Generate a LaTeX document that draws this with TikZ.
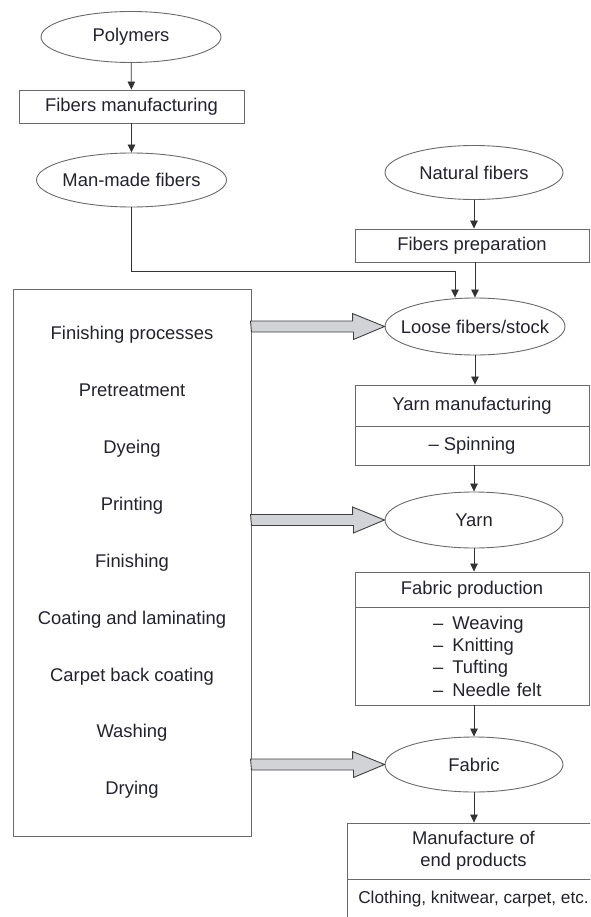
\documentclass[tikz,border=0pt]{standalone}
\usepackage{fontspec}
\setmainfont{Liberation Sans}
\usetikzlibrary{shapes.geometric,arrows.meta}
\definecolor{linegray}{HTML}{6A6A6A}
\definecolor{inkdark}{HTML}{22222E}
\definecolor{arrowfill}{HTML}{D2D3D7}

\begin{document}
\begin{tikzpicture}[x=1pt, y=-1pt,
    txt/.style={font=\fontsize{18.4pt}{22.3pt}\selectfont, text=inkdark},
    term/.style={txt, ellipse, draw=linegray, line width=0.9pt,
        minimum width=180pt, minimum height=54pt, inner sep=0pt,
        execute at begin node={\hbox to 0pt\bgroup\hss},
        execute at end node={\hss\egroup}},
    stage/.style={txt, rectangle, draw=linegray, line width=0.9pt,
        minimum width=234pt, inner sep=0pt, align=center},
    procbox/.style={txt, rectangle, draw=linegray, line width=0.9pt,
        minimum width=238pt, minimum height=547pt, align=center,
        font=\fontsize{18.4pt}{56.9pt}\selectfont},
    flow/.style={draw=black!80, line width=0.8pt, -{Triangle[length=8pt,width=7.5pt]}},
    fatarrow/.style={draw=black!75, fill=arrowfill, line width=0.9pt, line join=miter}]

    % Page
    \useasboundingbox (0,0) rectangle (590,917);
    \clip (0,0) rectangle (590,917);

    % Man-made fibers branch
    \node (poly) at (131,37) [term, minimum height=51pt] {Polymers};
    \node (fman) at (131.5,106.5) [stage, minimum width=225pt, minimum height=33pt] {Fibers manufacturing};
    \node (mmf) at (131.5,180) [term, minimum width=190pt] {Man-made fibers};

    % Natural fibers branch
    \node (nat) at (474,172.5) [term, minimum width=178pt] {Natural fibers};
    \node (fprep) at (472,245.5) [stage, minimum height=33pt] {Fibers preparation};

    % Main chain
    \node (loose) at (475,326.5) [term, minimum height=57pt] {Loose fibers/stock};
    \node (yarnhd) at (472,405.5) [stage, minimum height=41pt] {Yarn manufacturing};
    \node (yarnbd) at (472,445.5) [stage, minimum height=39pt] {– Spinning};
    \node (yarn) at (474,520) [term, minimum width=178pt, minimum height=56pt] {Yarn};
    \node (fabhd) at (472,589.5) [stage, minimum height=35pt] {Fabric production};
    \node (fabbd) at (472,656) [stage, minimum height=98pt, text width=234pt, align=left]
        {\hspace*{78pt}–\enspace Weaving\\\hspace*{78pt}–\enspace Knitting\\
         \hspace*{78pt}–\enspace Tufting\\\hspace*{78pt}–\enspace Needle felt};
    \node (fab) at (474,764.5) [term, minimum width=178pt, minimum height=55pt] {Fabric};
    \node (endhd) at (473.5,851) [stage, minimum width=253pt, minimum height=56pt] {Manufacture of\\end products};
    \node (endbd) at (473.5,899) [stage, minimum width=253pt, minimum height=40pt,
        font=\fontsize{17.2pt}{21pt}\selectfont] {Clothing, knitwear, carpet, etc.};

    % Finishing processes
    \node (proc) at (132,562.5) [procbox] {Finishing processes\\Pretreatment\\Dyeing\\Printing\\
        Finishing\\Coating and laminating\\Carpet back coating\\Washing\\Drying};

    % Connectors
    \draw[flow] (poly) -- (fman);
    \draw[flow] (fman) -- (mmf);
    \coordinate (bend) at (455,271);
    \draw[flow] (mmf.south) |- (bend) -- (bend |- loose.north);
    \draw[flow] (nat.south) -- (nat.south |- fprep.north);
    \draw[flow] (fprep.south -| loose.north) -- (loose.north);
    \draw[flow] (loose.south) -- (loose.south |- yarnhd.north);
    \draw[flow] (yarnbd.south -| yarn.north) -- (yarn.north);
    \draw[flow] (yarn.south) -- (yarn.south |- fabhd.north);
    \draw[flow] (fabbd.south -| fab.north) -- (fab.north);
    \draw[flow] (fab.south) -- (fab.south |- endhd.north);

    % Block arrows
    \draw[fatarrow] (proc.east |- loose.west) ++(0,5.5) -- ++(102,0) -- ++(0,7.5) -- (loose.west)
        -- ++(-32,-13) -- ++(0,7.5) -- ++(-102,0) -- cycle;
    \draw[fatarrow] (proc.east |- yarn.west) ++(0,5.5) -- ++(102,0) -- ++(0,7.5) -- (yarn.west)
        -- ++(-32,-13) -- ++(0,7.5) -- ++(-102,0) -- cycle;
    \draw[fatarrow] (proc.east |- fab.west) ++(0,5.5) -- ++(102,0) -- ++(0,7.5) -- (fab.west)
        -- ++(-32,-13) -- ++(0,7.5) -- ++(-102,0) -- cycle;
\end{tikzpicture}
\end{document}
